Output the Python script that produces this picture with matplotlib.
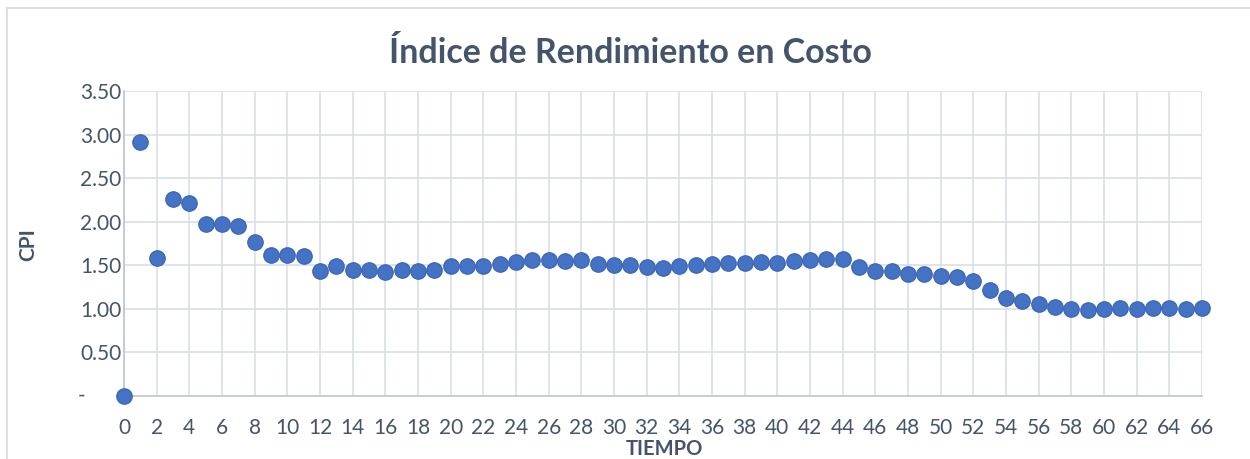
import matplotlib
matplotlib.use('Agg')
import matplotlib.pyplot as plt
from matplotlib.lines import Line2D
import numpy as np

# Data
periods = list(range(0, 67))
cpi = [0.00, 2.91, 1.58, 2.26, 2.21, 1.97, 1.97, 1.95, 1.77, 1.62,
       1.62, 1.61, 1.44, 1.49, 1.45, 1.45, 1.42, 1.45, 1.44, 1.45,
       1.49, 1.49, 1.49, 1.52, 1.54, 1.56, 1.56, 1.55, 1.56, 1.52,
       1.50, 1.50, 1.48, 1.47, 1.49, 1.50, 1.52, 1.53, 1.53, 1.54,
       1.53, 1.55, 1.56, 1.57, 1.57, 1.48, 1.43, 1.43, 1.40, 1.40,
       1.38, 1.36, 1.32, 1.22, 1.12, 1.09, 1.06, 1.02, 1.00, 0.99,
       1.00, 1.01, 1.00, 1.01, 1.01, 1.00, 1.01]
y_ticks = [0.5, 1.0, 1.5, 2.0, 2.5, 3.0, 3.5]
y_labels = ['0.50', '1.00', '1.50', '2.00', '2.50', '3.00', '3.50']
x_ticks = list(range(0, 67, 2))

TEXT = '#44546A'
GRID = '#D9DEE6'
SPINE = '#BCC5D3'
plt.rcParams['font.family'] = ['Lato', 'DejaVu Sans']

fig = plt.figure(figsize=(12.5, 4.59), dpi=100)
ax = fig.add_axes([124 / 1250, 1 - 396 / 459, (1202 - 124) / 1250, (396 - 91) / 459])

ax.scatter(periods, cpi, s=125, color='#4472C4', edgecolor='#3B64B0',
           linewidth=0.8, zorder=3, clip_on=False)

ax.set_xlim(0, 66)
ax.set_ylim(0, 3.5)
ax.set_xticks(x_ticks)
ax.set_yticks(y_ticks)
ax.set_yticklabels(y_labels)
ax.tick_params(axis='both', length=0, labelsize=15, labelcolor=TEXT)
ax.tick_params(axis='x', pad=16)
ax.tick_params(axis='y', pad=2)
ax.grid(True, color=GRID, linewidth=1.2, zorder=0)
ax.set_axisbelow(True)
for side in ['top', 'right']:
    ax.spines[side].set_visible(False)
for side in ['left', 'bottom']:
    ax.spines[side].set_color(SPINE)
    ax.spines[side].set_linewidth(1.2)

# accounting-style zero label
fig.text(82 / 1250, 1 - 396 / 459, '-', ha='center', va='center',
         fontsize=15, color=TEXT)

fig.text(0.504, 0.884, 'Índice de Rendimiento en Costo', ha='center', va='center',
         fontsize=24.5, fontweight='bold', color=TEXT)
fig.text(28 / 1250, 1 - 245 / 459, 'CPI', ha='center', va='center', rotation=90,
         fontsize=15, fontweight='bold', color=TEXT)
fig.text(664 / 1250, 1 - 449 / 459, 'TIEMPO', ha='center', va='center',
         fontsize=14.5, fontweight='bold', color=TEXT)

# chart frame (cropped Excel chart border)
fig.add_artist(Line2D([7 / 1250, 1.0], [1 - 8 / 459, 1 - 8 / 459], color='#D9D9D9', lw=1.2))
fig.add_artist(Line2D([7 / 1250, 7 / 1250], [0.0, 1 - 8 / 459], color='#D9D9D9', lw=1.2))

fig.savefig('out.png', dpi=100)
